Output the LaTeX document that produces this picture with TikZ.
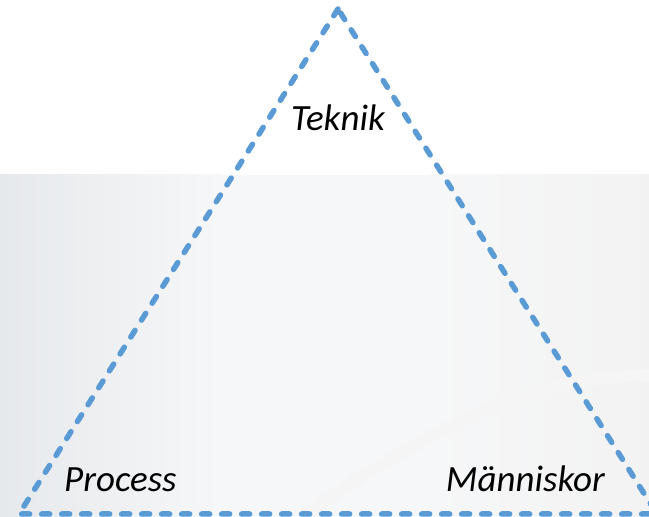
\documentclass[tikz,border=0pt]{standalone}
\usepackage{fontspec}
\newfontfamily\calib{Carlito}
\usepackage{tikz}
\definecolor{dashblue}{HTML}{5B9BD5}
\definecolor{panelgray}{HTML}{E6E9EC}
\definecolor{panellight}{HTML}{F6F7F8}
\tikzset{
    edge/.style={draw=dashblue,line width=5.5pt,line cap=round,line join=round,dash pattern=on 8pt off 12pt},
    corner/.style={font=\calib\itshape\fontsize{37}{40}\selectfont,inner sep=0pt,anchor=base}
}

\begin{document}
\begin{tikzpicture}[x=1pt,y=1pt]
        \useasboundingbox (0,0) rectangle (649,517);
        % background panel
        \fill[panellight] (0,0) rectangle (649,342);
        \shade[left color=panelgray,right color=panellight] (0,0) rectangle (220,342);
        \shade[left color=panellight,right color=black!5] (430,0) rectangle (649,342);
        \draw[black!4,line width=12pt] (300,0) .. controls (420,80) and (520,140) .. (649,142);

        \coordinate (top) at (338,508);
        \coordinate (left) at (19,3);
        \coordinate (right) at (657,3);
        \draw[edge] (top) -- (left) -- (right) -- cycle;

        \node[corner] (teknik) at (338,386) {Teknik};
        \node[corner,anchor=base west] (process) at (64,25) {Process};
        \node[corner,anchor=base east] (manniskor) at (605,25) {Människor};
    \end{tikzpicture}
\end{document}
